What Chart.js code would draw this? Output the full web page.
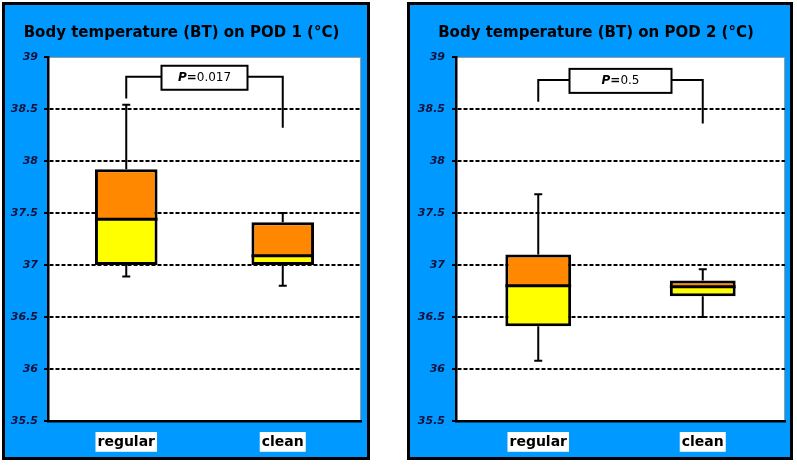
<!DOCTYPE html>
<html>
<head>
<meta charset="utf-8">
<script src="https://cdn.jsdelivr.net/npm/chart.js@4"></script>
<style>
  body { margin: 0; background: #fff; width: 797px; height: 465px; position: relative; overflow: hidden; }
  canvas { position: absolute; top: 2px; }
  #pod1 { left: 2px; }
  #pod2 { left: 407px; }
</style>
</head>
<body>
<canvas id="pod1" width="368" height="458"></canvas>
<canvas id="pod2" width="386" height="458"></canvas>
<script>
const categories = ['regular', 'clean'];
const yTicks = [35.5, 36, 36.5, 37, 37.5, 38, 38.5, 39];
const yTickLabels = ['35.5', '36', '36.5', '37', '37.5', '38', '38.5', '39'];

// POD 1 (box plot values)
const pod1Min = [36.89, 36.80];
const pod1Q1 = [37.00, 37.00];
const pod1Median = [37.44, 37.09];
const pod1Q3 = [37.92, 37.41];
const pod1Max = [38.54, 37.50];
const pod1Bracket = [38.60, 38.81, 38.32]; // left end, top, right end
const pod1P = '0.017';

// POD 2
const pod2Min = [36.08, 36.50];
const pod2Q1 = [36.41, 36.70];
const pod2Median = [36.80, 36.79];
const pod2Q3 = [37.10, 36.85];
const pod2Max = [37.68, 36.96];
const pod2Bracket = [38.57, 38.78, 38.36];
const pod2P = '0.5';

const FONT = 'DejaVu Sans';

// blue panel, white plot area
const painelPlugin = {
  id: 'painel',
  beforeDraw(chart) {
    const { ctx, width, height, chartArea: a } = chart;
    ctx.save();
    ctx.fillStyle = '#0099ff';
    ctx.fillRect(0, 0, width, height);
    ctx.strokeStyle = '#000';
    ctx.lineWidth = 3;
    ctx.strokeRect(1.5, 1.5, width - 3, height - 3);
    ctx.fillStyle = '#fff';
    ctx.fillRect(a.left, a.top, a.right - a.left, a.bottom - a.top);
    ctx.strokeStyle = '#9a9a9a';
    ctx.lineWidth = 1;
    ctx.strokeRect(a.left + 0.5, a.top + 0.5, a.right - a.left - 1, a.bottom - a.top);
    ctx.restore();
  }
};

// median line, whiskers + significance bracket
const boxPlugin = {
  id: 'boxplot',
  afterDatasetsDraw(chart, args, opts) {
    const { ctx, scales: { x, y } } = chart;
    const meta = chart.getDatasetMeta(0);
    ctx.save();
    ctx.strokeStyle = '#000';

    ctx.lineWidth = 3;
    opts.median.forEach((v, i) => {
      const bar = meta.data[i];
      const ym = y.getPixelForValue(v);
      ctx.beginPath();
      ctx.moveTo(bar.x - bar.width / 2, ym);
      ctx.lineTo(bar.x + bar.width / 2, ym);
      ctx.stroke();
    });

    ctx.lineWidth = 2;
    opts.min.forEach((v, i) => {
      const cx = x.getPixelForValue(i);
      [[opts.q3[i], opts.max[i]], [opts.q1[i], opts.min[i]]].forEach(([from, to]) => {
        const y1 = y.getPixelForValue(from);
        const y2 = y.getPixelForValue(to);
        ctx.beginPath();
        ctx.moveTo(cx, y1);
        ctx.lineTo(cx, y2);
        ctx.moveTo(cx - 4, y2);
        ctx.lineTo(cx + 4, y2);
        ctx.stroke();
      });
    });

    const [yl, yt, yr] = opts.bracket.map(v => y.getPixelForValue(v));
    const xl = x.getPixelForValue(0);
    const xr = x.getPixelForValue(1);
    ctx.beginPath();
    ctx.moveTo(xl, yl);
    ctx.lineTo(xl, yt);
    ctx.lineTo(xr, yt);
    ctx.lineTo(xr, yr);
    ctx.stroke();

    const cx = (xl + xr) / 2, w = opts.boxWidth, h = 24;
    ctx.fillStyle = '#fff';
    ctx.fillRect(cx - w / 2, yt - h / 2 + 1, w, h);
    ctx.strokeRect(cx - w / 2, yt - h / 2 + 1, w, h);

    const parts = [
      ['P', `italic bold 12px "${FONT}"`],
      ['=', `bold 12px "${FONT}"`],
      [opts.pValue, `12px "${FONT}"`]
    ];
    let total = 0;
    parts.forEach(p => { ctx.font = p[1]; total += ctx.measureText(p[0]).width; });
    let tx = cx - total / 2;
    ctx.fillStyle = '#000';
    ctx.textBaseline = 'middle';
    parts.forEach(p => {
      ctx.font = p[1];
      ctx.fillText(p[0], tx, yt + 1);
      tx += ctx.measureText(p[0]).width;
    });
    ctx.restore();
  }
};

function criarGrafico(id, titulo, q1, median, q3, min, max, bracket, pValue, opts) {
  const ctx = document.getElementById(id).getContext('2d');
  return new Chart(ctx, {
    type: 'bar',
    data: {
      labels: categories,
      datasets: [
        {
          label: 'lower',
          data: q1.map((v, i) => [v, median[i]]),
          backgroundColor: '#ffff00',
          borderColor: '#000',
          borderWidth: { left: 3, right: 3, bottom: 3, top: 0 },
          borderSkipped: false,
          inflateAmount: 0
        },
        {
          label: 'upper',
          data: median.map((v, i) => [v, q3[i]]),
          backgroundColor: '#ff8800',
          borderColor: '#000',
          borderWidth: { left: 3, right: 3, top: 3, bottom: 0 },
          borderSkipped: false,
          inflateAmount: 0
        }
      ]
    },
    options: {
      responsive: false,
      animation: false,
      grouped: false,
      barPercentage: 0.4,
      categoryPercentage: 1,
      layout: { padding: { right: opts.padRight } },
      scales: {
        x: {
          afterFit: s => { s.height = 39; },
          grid: { drawOnChartArea: false, drawTicks: false },
          border: { color: '#000', width: 2.5 },
          ticks: {
            font: { family: FONT, size: 14, weight: 'bold' },
            color: '#000',
            padding: 13,
            showLabelBackdrop: true,
            backdropColor: '#fff',
            backdropPadding: { top: 2, bottom: 1, left: 2, right: 2 }
          }
        },
        y: {
          min: 35.5,
          max: 39,
          afterBuildTicks: s => { s.ticks = yTicks.map(v => ({ value: v })); },
          afterFit: s => { s.width = opts.axisWidth; },
          ticks: {
            font: { family: FONT, size: 11, weight: 'bold', style: 'italic' },
            color: '#10103a',
            padding: opts.tickPad,
            callback: (v, i) => yTickLabels[i]
          },
          grid: {
            color: c => (c.tick && (c.tick.value === 39 || c.tick.value === 35.5)) ? 'rgba(0,0,0,0)' : '#000',
            lineWidth: 2,
            tickColor: '#000',
            tickLength: 4,
            tickWidth: 2
          },
          border: { color: '#000', width: 2.5, dash: [4, 2] }
        }
      },
      plugins: {
        legend: { display: false },
        tooltip: { enabled: false },
        title: {
          display: true,
          text: titulo,
          color: '#000',
          font: { family: FONT, size: 15, weight: 'bold' },
          padding: { top: 22, bottom: 15 }
        },
        boxplot: { q1, median, q3, min, max, bracket, pValue, boxWidth: opts.boxWidth }
      }
    },
    plugins: [painelPlugin, boxPlugin]
  });
}

criarGrafico('pod1', 'Body temperature (BT) on POD 1 (\u00B0C)',
  pod1Q1, pod1Median, pod1Q3, pod1Min, pod1Max, pod1Bracket, pod1P,
  { padRight: 9, axisWidth: 46, tickPad: 6, boxWidth: 86 });

criarGrafico('pod2', 'Body temperature (BT) on POD 2 (\u00B0C)',
  pod2Q1, pod2Median, pod2Q3, pod2Min, pod2Max, pod2Bracket, pod2P,
  { padRight: 8, axisWidth: 49, tickPad: 7, boxWidth: 102 });
</script>
</body>
</html>
